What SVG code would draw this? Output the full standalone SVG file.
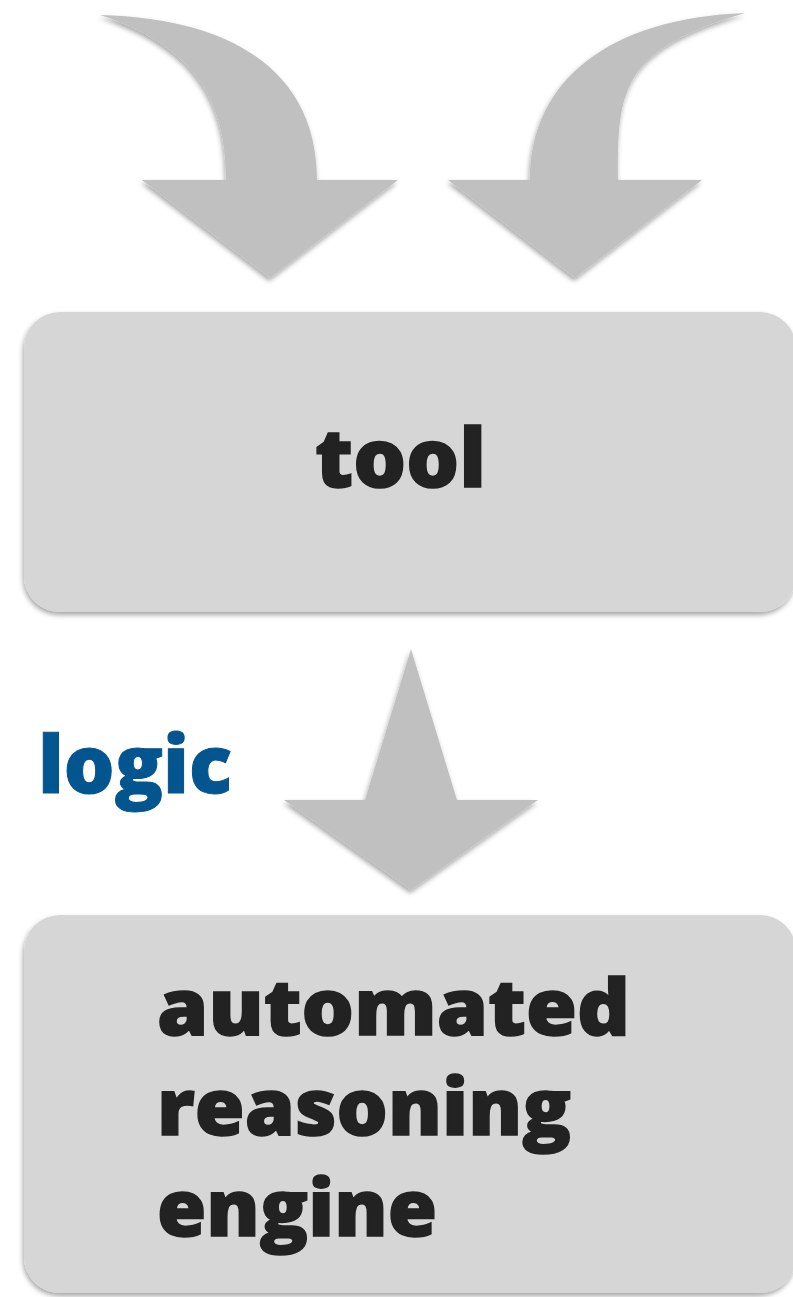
<svg xmlns="http://www.w3.org/2000/svg" width="793" height="1297" viewBox="0 0 793 1297">
  <style>
    .box { fill: #d6d6d6; }
    .arrow { fill: #c0c0c0; }
    .label { font-family: "Open Sans", "Liberation Sans", sans-serif; font-weight: 800; fill: #222222; stroke: #222222; stroke-width: 1.5; }
    .edge-label { font-family: "Open Sans", "Liberation Sans", sans-serif; font-weight: 800; fill: #03558f; stroke: #03558f; stroke-width: 1; }
  </style>
  <defs>
    <filter id="shadow" x="-10%" y="-10%" width="120%" height="125%">
      <feDropShadow dx="-1" dy="3" stdDeviation="2.5" flood-color="#000" flood-opacity="0.35"/>
    </filter>
  </defs>

  <rect width="793" height="1297" fill="#ffffff"/>

  <!-- connectors -->
  <g id="connectors">
    <path class="arrow" filter="url(#shadow)" d="M100,15 C230,18 317,70 317,180 L398,180 L270,278 L142,180 L226,180 C226,95 190,45 100,15 Z"/>
    <path class="arrow" filter="url(#shadow)" d="M745,13 C610,18 530,80 530,180 L448,180 L575,278 L702,180 L618,180 C618,90 620,50 745,13 Z"/>
    <path class="arrow" filter="url(#shadow)" d="M411,649 L457,800 L538,800 L411,890 L284,800 L365,800 Z"/>
    <text class="edge-label" x="38" y="793" font-size="80" textLength="194" lengthAdjust="spacingAndGlyphs">logic</text>
  </g>

  <!-- tool -->
  <g id="tool">
    <rect class="box" filter="url(#shadow)" x="24" y="312" width="772" height="300" rx="36" ry="36"/>
    <text class="label" x="315" y="487" font-size="82" textLength="171" lengthAdjust="spacingAndGlyphs">tool</text>
  </g>

  <!-- automated reasoning engine -->
  <g id="engine">
    <rect class="box" filter="url(#shadow)" x="24" y="915" width="772" height="378" rx="36" ry="36"/>
    <text class="label" font-size="78">
      <tspan x="157" y="1035" textLength="473" lengthAdjust="spacingAndGlyphs">automated</tspan>
      <tspan x="157" y="1135" textLength="414" lengthAdjust="spacingAndGlyphs">reasoning</tspan>
      <tspan x="157" y="1236" textLength="280" lengthAdjust="spacingAndGlyphs">engine</tspan>
    </text>
  </g>
</svg>
